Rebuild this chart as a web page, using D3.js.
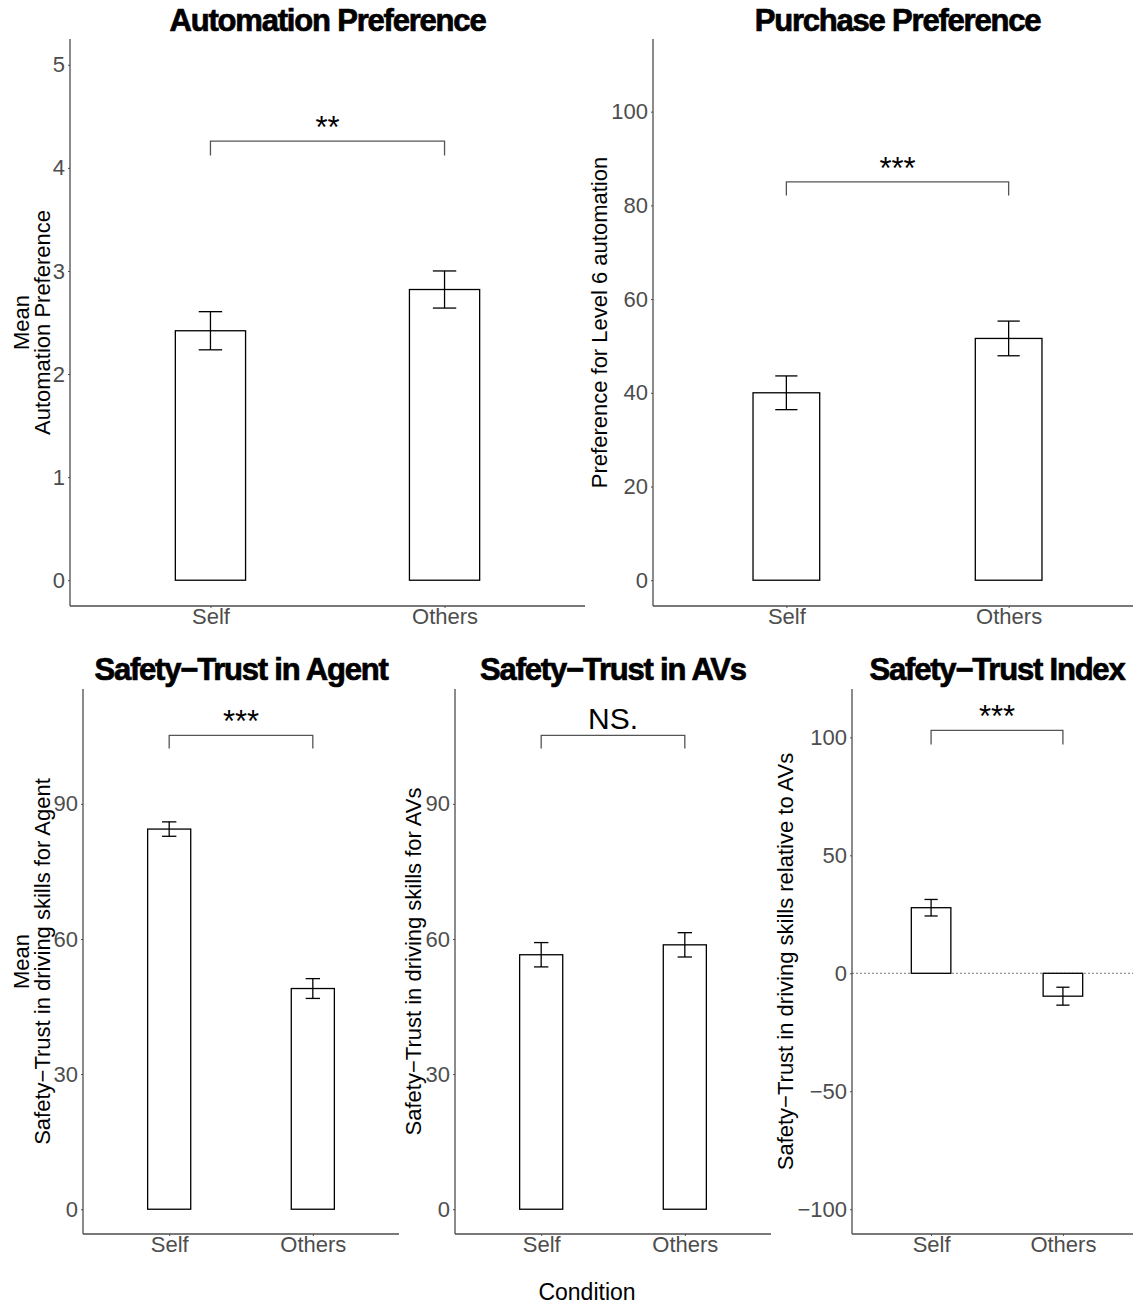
<!DOCTYPE html>
<html>
<head>
<meta charset="utf-8">
<script src="https://cdn.jsdelivr.net/npm/d3@7"></script>
<style>
  body { margin: 0; background: #fff; }
  svg { font-family: "Liberation Sans", Arial, sans-serif; display: block; }
</style>
</head>
<body>
<div id="chart"></div>
<script>
// DATA
const conditions = ["Self", "Others"];

const automationMean = [2.42, 2.82];
const automationSE = [0.185, 0.18];
const purchaseMean = [40.0, 51.6];
const purchaseSE = [3.6, 3.7];
const agentMean = [84.4, 49.0];
const agentSE = [1.6, 2.2];
const avMean = [56.5, 58.7];
const avSE = [2.7, 2.7];
const indexMean = [27.8, -9.7];
const indexSE = [3.5, 3.8];

const automationTicks = [0, 1, 2, 3, 4, 5];
const purchaseTicks = [0, 20, 40, 60, 80, 100];
const trustTicks = [0, 30, 60, 90];
const indexTicks = [-100, -50, 0, 50, 100];

// significance brackets: [bracket top, end of the legs]
const automationSig = { label: "**", top: 4.26, leg: 4.12 };
const purchaseSig = { label: "***", top: 85, leg: 82.1 };
const agentSig = { label: "***", top: 105.2, leg: 102.3 };
const avSig = { label: "NS.", top: 105.2, leg: 102.3 };
const indexSig = { label: "***", top: 103, leg: 97 };

// LAYOUT
const W = 1133, H = 1306;
const svg = d3.select("#chart").append("svg")
    .attr("width", W)
    .attr("height", H);

const panels = [
    { title: "Automation Preference", ylab: ["Mean", "Automation Preference"], yl: [29, 50],
      mean: automationMean, se: automationSE, ticks: automationTicks, domain: [-0.25, 5.25],
      sig: automationSig, x0: 70, x1: 585, y0: 39, y1: 606, titleY: 31 },
    { title: "Purchase Preference", ylab: ["Preference for Level 6 automation"], yl: [607],
      mean: purchaseMean, se: purchaseSE, ticks: purchaseTicks, domain: [-5.5, 115.5],
      sig: purchaseSig, x0: 653, x1: 1142, y0: 39, y1: 606, titleY: 31 },
    { title: "Safety\u2212Trust in Agent", ylab: ["Mean", "Safety\u2212Trust in driving skills for Agent"], yl: [29, 50],
      mean: agentMean, se: agentSE, ticks: trustTicks, domain: [-5.5, 115.5],
      sig: agentSig, x0: 83, x1: 399, y0: 689, y1: 1234, titleY: 680 },
    { title: "Safety\u2212Trust in AVs", ylab: ["Safety\u2212Trust in driving skills for AVs"], yl: [421],
      mean: avMean, se: avSE, ticks: trustTicks, domain: [-5.5, 115.5],
      sig: avSig, x0: 455, x1: 771, y0: 689, y1: 1234, titleY: 680 },
    { title: "Safety\u2212Trust Index", ylab: ["Safety\u2212Trust in driving skills relative to AVs"], yl: [793],
      mean: indexMean, se: indexSE, ticks: indexTicks, domain: [-110.5, 120.5],
      sig: indexSig, x0: 852, x1: 1142, y0: 689, y1: 1234, titleY: 680, zeroLine: true }
];

const axisColor = "#4d4d4d";

panels.forEach(p => {
    const g = svg.append("g");

    // scales: discrete x with ggplot-like 0.6 expansion
    const x = d3.scaleLinear().domain([0.4, 2.6]).range([p.x0, p.x1]);
    const y = d3.scaleLinear().domain(p.domain).range([p.y1, p.y0]);
    const unit = x(2) - x(1);
    const barW = 0.3 * unit;
    const capW = 0.1 * unit;

    const data = conditions.map((c, i) => ({ cond: c, pos: i + 1, mean: p.mean[i], se: p.se[i] }));

    if (p.zeroLine) {
        g.append("line")
            .attr("x1", p.x0).attr("x2", p.x1)
            .attr("y1", y(0)).attr("y2", y(0))
            .attr("stroke", "#777")
            .attr("stroke-width", 1)
            .attr("stroke-dasharray", "2,2");
    }

    // bars
    g.selectAll(".bar")
        .data(data)
        .enter()
        .append("rect")
        .attr("class", "bar")
        .attr("x", d => x(d.pos) - barW / 2)
        .attr("width", barW)
        .attr("y", d => y(Math.max(0, d.mean)))
        .attr("height", d => Math.abs(y(0) - y(d.mean)))
        .attr("fill", "white")
        .attr("stroke", "black")
        .attr("stroke-width", 1.3);

    // error bars
    const eb = g.selectAll(".err")
        .data(data)
        .enter()
        .append("g")
        .attr("class", "err")
        .attr("stroke", "black")
        .attr("stroke-width", 1.3);
    eb.append("line")
        .attr("x1", d => x(d.pos)).attr("x2", d => x(d.pos))
        .attr("y1", d => y(d.mean - d.se)).attr("y2", d => y(d.mean + d.se));
    eb.append("line")
        .attr("x1", d => x(d.pos) - capW / 2).attr("x2", d => x(d.pos) + capW / 2)
        .attr("y1", d => y(d.mean + d.se)).attr("y2", d => y(d.mean + d.se));
    eb.append("line")
        .attr("x1", d => x(d.pos) - capW / 2).attr("x2", d => x(d.pos) + capW / 2)
        .attr("y1", d => y(d.mean - d.se)).attr("y2", d => y(d.mean - d.se));

    // significance bracket
    g.append("path")
        .attr("d", `M${x(1)},${y(p.sig.leg)}V${y(p.sig.top)}H${x(2)}V${y(p.sig.leg)}`)
        .attr("fill", "none")
        .attr("stroke", "#555")
        .attr("stroke-width", 1.3);
    g.append("text")
        .attr("x", x(1.5))
        .attr("y", y(p.sig.top) - (p.sig.label === "NS." ? 6 : 3))
        .attr("text-anchor", "middle")
        .attr("font-size", p.sig.label === "NS." ? 30 : 31)
        .attr("fill", "black")
        .text(p.sig.label);

    // axes
    const yAxis = g.append("g")
        .attr("transform", `translate(${p.x0},0)`)
        .call(d3.axisLeft(y).tickValues(p.ticks).tickSize(2).tickPadding(3)
            .tickFormat(d => d < 0 ? "\u2212" + Math.abs(d) : d));
    const xAxis = g.append("g")
        .attr("transform", `translate(0,${p.y1})`)
        .call(d3.axisBottom(x).tickValues([1, 2]).tickSize(2).tickPadding(0)
            .tickFormat(d => conditions[d - 1]));

    [yAxis, xAxis].forEach(a => {
        a.select(".domain").attr("stroke", axisColor).attr("stroke-width", 1.3);
        a.selectAll(".tick line").attr("stroke", axisColor);
        a.selectAll(".tick text")
            .attr("fill", axisColor)
            .attr("font-size", 22)
            .attr("font-family", "Liberation Sans, Arial, sans-serif");
    });
    yAxis.select(".domain").attr("d", `M0,${p.y1}V${p.y0}`);
    xAxis.select(".domain").attr("d", `M${p.x0},0H${p.x1}`);

    // title
    g.append("text")
        .attr("x", (p.x0 + p.x1) / 2)
        .attr("y", p.titleY)
        .attr("text-anchor", "middle")
        .attr("font-size", 31)
        .attr("font-weight", "bold")
        .attr("letter-spacing", -1.2)
        .attr("fill", "black")
        .attr("stroke", "black")
        .attr("stroke-width", 0.7)
        .text(p.title);

    // y label
    const yc = (p.y0 + p.y1) / 2;
    p.ylab.forEach((line, i) => {
        g.append("text")
            .attr("transform", `translate(${p.yl[i]},${yc}) rotate(-90)`)
            .attr("text-anchor", "middle")
            .attr("font-size", 22)
            .attr("fill", "black")
            .text(line);
    });
});

// shared x label
svg.append("text")
    .attr("x", 587)
    .attr("y", 1300)
    .attr("text-anchor", "middle")
    .attr("font-size", 23)
    .attr("fill", "black")
    .text("Condition");
</script>
</body>
</html>
